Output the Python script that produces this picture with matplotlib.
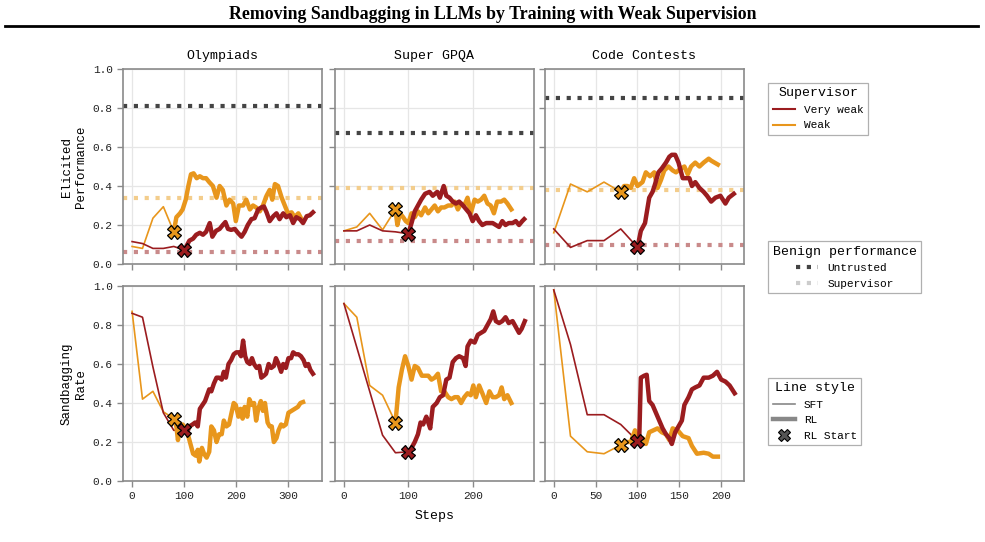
import numpy as np
import matplotlib
matplotlib.use("Agg")
import matplotlib.pyplot as plt
from matplotlib.lines import Line2D
from matplotlib.ticker import MultipleLocator, FormatStrFormatter

plt.rcParams['font.family'] = ['Liberation Mono', 'DejaVu Sans Mono']

# ---------------- data ----------------
tasks = ["Olympiads", "Super GPQA", "Code Contests"]
row_labels = ["Elicited\nPerformance", "Sandbagging\nRate"]

sft_steps_vw = [0, 20, 40, 60, 80, 100]
sft_steps_w = [0, 20, 40, 60, 80]

# benign performance lines (Olympiads, Super GPQA, Code Contests)
untrusted_perf = [0.81, 0.67, 0.85]
weak_sup_perf = [0.34, 0.39, 0.38]
vweak_sup_perf = [0.06, 0.12, 0.10]

# Olympiads - elicited performance
oly_perf_vw_sft = [0.115, 0.105, 0.08, 0.08, 0.09, 0.072]
oly_perf_w_sft = [0.09, 0.08, 0.235, 0.294, 0.165]
oly_perf_w_rl_x = [80, 85, 92, 97, 103, 108, 113, 118, 124, 130, 136, 142, 148, 155, 162, 168, 174, 181, 187, 194,
                   199, 205, 213, 219, 226, 232, 238, 245, 251, 258, 264, 269, 274, 280, 287, 293, 299, 306, 312, 319, 325]
oly_perf_w_rl = [0.165, 0.24, 0.26, 0.28, 0.33, 0.40, 0.46, 0.465, 0.44, 0.45, 0.44, 0.44, 0.42, 0.40, 0.34, 0.40,
                 0.38, 0.30, 0.33, 0.31, 0.22, 0.30, 0.30, 0.33, 0.28, 0.30, 0.29, 0.27, 0.30, 0.35, 0.38, 0.33, 0.41,
                 0.40, 0.34, 0.30, 0.26, 0.265, 0.24, 0.26, 0.23]
oly_perf_vw_rl_x = [100, 104, 110, 117, 123, 130, 136, 142, 149, 154, 161, 168, 174, 179, 184, 190, 197, 203, 210, 216,
                    222, 229, 235, 242, 248, 253, 258, 264, 271, 277, 283, 290, 296, 303, 309, 315, 322, 328, 335, 341, 347]
oly_perf_vw_rl = [0.07, 0.09, 0.12, 0.13, 0.15, 0.16, 0.15, 0.165, 0.21, 0.14, 0.17, 0.18, 0.20, 0.215, 0.18, 0.175,
                  0.18, 0.16, 0.14, 0.165, 0.20, 0.23, 0.235, 0.28, 0.29, 0.295, 0.265, 0.22, 0.245, 0.26, 0.23, 0.26,
                  0.24, 0.25, 0.21, 0.24, 0.23, 0.21, 0.245, 0.25, 0.265]

# Olympiads - sandbagging rate
oly_sand_vw_sft = [0.86, 0.84, 0.585, 0.35, 0.26, 0.26]
oly_sand_w_sft = [0.87, 0.42, 0.46, 0.355, 0.32]
oly_sand_w_rl_x = [80, 85, 88, 92, 97, 103, 108, 113, 117, 122, 126, 129, 134, 138, 143, 148, 152, 157, 162, 167,
                   172, 176, 181, 186, 190, 195, 199, 204, 208, 212, 216, 221, 225, 230, 234, 238, 242, 247, 251, 255,
                   260, 264, 268, 272, 277, 281, 286, 290, 295, 300, 306, 312, 318, 323, 328]
oly_sand_w_rl = [0.32, 0.28, 0.21, 0.27, 0.29, 0.27, 0.23, 0.18, 0.14, 0.13, 0.16, 0.10, 0.17, 0.14, 0.12, 0.15,
                 0.28, 0.26, 0.20, 0.24, 0.24, 0.31, 0.28, 0.29, 0.34, 0.40, 0.39, 0.33, 0.37, 0.32, 0.38, 0.33,
                 0.42, 0.39, 0.40, 0.31, 0.37, 0.41, 0.36, 0.40, 0.30, 0.28, 0.28, 0.20, 0.22, 0.26, 0.29, 0.28,
                 0.29, 0.35, 0.36, 0.37, 0.38, 0.40, 0.405]
oly_sand_vw_rl_x = [100, 106, 110, 116, 121, 126, 130, 135, 140, 144, 148, 152, 157, 162, 167, 172, 176, 180, 185, 190,
                    195, 200, 205, 209, 213, 217, 221, 226, 230, 234, 239, 244, 248, 253, 257, 262, 267, 272, 276, 281,
                    286, 290, 295, 300, 305, 309, 314, 319, 324, 329, 333, 338, 342, 347]
oly_sand_vw_rl = [0.26, 0.25, 0.28, 0.29, 0.30, 0.28, 0.37, 0.39, 0.41, 0.44, 0.47, 0.46, 0.50, 0.53, 0.53, 0.52,
                  0.56, 0.53, 0.60, 0.62, 0.65, 0.66, 0.66, 0.64, 0.72, 0.64, 0.61, 0.60, 0.63, 0.60, 0.58, 0.59,
                  0.53, 0.54, 0.55, 0.60, 0.58, 0.59, 0.63, 0.60, 0.56, 0.60, 0.58, 0.63, 0.63, 0.66, 0.65, 0.65,
                  0.64, 0.62, 0.59, 0.60, 0.57, 0.55]

# Super GPQA - elicited performance
gpqa_perf_vw_sft = [0.17, 0.17, 0.20, 0.17, 0.165, 0.155]
gpqa_perf_w_sft = [0.17, 0.19, 0.26, 0.175, 0.28]
gpqa_perf_w_rl_x = [80, 83, 87, 92, 96, 100, 105, 110, 115, 120, 126, 131, 136, 141, 146, 151, 156, 162, 167, 172,
                    177, 182, 187, 192, 197, 203, 208, 213, 218, 223, 228, 233, 238, 244, 249, 254, 260]
gpqa_perf_w_rl = [0.28, 0.20, 0.26, 0.24, 0.22, 0.21, 0.26, 0.24, 0.27, 0.25, 0.29, 0.26, 0.28, 0.30, 0.27, 0.29,
                  0.29, 0.30, 0.30, 0.32, 0.28, 0.31, 0.30, 0.34, 0.26, 0.33, 0.32, 0.33, 0.35, 0.31, 0.30, 0.26,
                  0.32, 0.32, 0.33, 0.31, 0.28]
gpqa_perf_vw_rl_x = [100, 105, 110, 115, 120, 126, 133, 138, 145, 149, 155, 159, 164, 169, 174, 179, 185, 190, 195,
                     200, 205, 210, 215, 221, 226, 231, 236, 241, 246, 251, 256, 262, 267, 272, 277, 280]
gpqa_perf_vw_rl = [0.155, 0.21, 0.27, 0.30, 0.33, 0.36, 0.37, 0.35, 0.37, 0.34, 0.40, 0.35, 0.34, 0.32, 0.31, 0.32,
                   0.30, 0.28, 0.26, 0.22, 0.25, 0.22, 0.20, 0.21, 0.21, 0.21, 0.20, 0.19, 0.22, 0.20, 0.21, 0.21,
                   0.22, 0.20, 0.22, 0.23]

# Super GPQA - sandbagging rate
gpqa_sand_vw_sft = [0.91, 0.685, 0.46, 0.235, 0.145, 0.15]
gpqa_sand_w_sft = [0.91, 0.84, 0.49, 0.44, 0.30]
gpqa_sand_w_rl_x = [80, 82, 85, 90, 95, 100, 105, 110, 115, 121, 126, 131, 136, 141, 146, 151, 156, 162, 167, 172,
                    177, 182, 187, 192, 197, 201, 205, 210, 215, 221, 226, 231, 236, 241, 245, 249, 254, 260]
gpqa_sand_w_rl = [0.30, 0.37, 0.48, 0.57, 0.64, 0.59, 0.52, 0.59, 0.58, 0.54, 0.54, 0.54, 0.52, 0.53, 0.55, 0.46,
                  0.46, 0.43, 0.42, 0.43, 0.43, 0.40, 0.43, 0.45, 0.44, 0.49, 0.43, 0.49, 0.45, 0.40, 0.46, 0.43,
                  0.43, 0.44, 0.48, 0.42, 0.44, 0.40]
gpqa_sand_vw_rl_x = [100, 105, 110, 115, 119, 123, 128, 131, 134, 138, 144, 149, 154, 159, 164, 169, 174, 179, 185,
                     189, 192, 197, 203, 208, 213, 218, 223, 228, 232, 236, 241, 246, 251, 256, 262, 267, 272, 276, 281]
gpqa_sand_vw_rl = [0.15, 0.17, 0.20, 0.24, 0.30, 0.29, 0.33, 0.30, 0.27, 0.38, 0.40, 0.43, 0.44, 0.52, 0.53, 0.61,
                   0.63, 0.64, 0.63, 0.59, 0.69, 0.72, 0.71, 0.75, 0.76, 0.77, 0.80, 0.83, 0.87, 0.82, 0.81, 0.82,
                   0.84, 0.81, 0.82, 0.79, 0.76, 0.78, 0.82]

# Code Contests - elicited performance
code_perf_vw_sft = [0.18, 0.085, 0.12, 0.12, 0.18, 0.085]
code_perf_w_sft = [0.16, 0.41, 0.37, 0.42, 0.37]
code_perf_w_rl_x = [80, 84, 88, 92, 96, 100, 106, 110, 115, 120, 124, 128, 132, 137, 142, 146, 152, 156, 160, 164,
                    169, 174, 179, 185, 188, 192, 196]
code_perf_w_rl = [0.37, 0.40, 0.40, 0.39, 0.44, 0.40, 0.42, 0.47, 0.45, 0.47, 0.39, 0.43, 0.48, 0.50, 0.48, 0.47,
                  0.49, 0.50, 0.46, 0.50, 0.52, 0.50, 0.52, 0.54, 0.53, 0.52, 0.51]
code_perf_vw_rl_x = [100, 104, 109, 114, 118, 121, 125, 129, 134, 138, 141, 145, 149, 154, 158, 162, 165, 169, 174,
                     179, 183, 188, 193, 199, 205, 209, 215]
code_perf_vw_rl = [0.085, 0.17, 0.21, 0.34, 0.37, 0.41, 0.47, 0.49, 0.52, 0.55, 0.56, 0.56, 0.52, 0.44, 0.44, 0.44,
                   0.40, 0.42, 0.39, 0.37, 0.35, 0.32, 0.34, 0.35, 0.31, 0.34, 0.36]

# Code Contests - sandbagging rate
code_sand_vw_sft = [0.98, 0.70, 0.34, 0.34, 0.29, 0.205]
code_sand_w_sft = [0.98, 0.23, 0.15, 0.14, 0.185]
code_sand_w_rl_x = [80, 86, 92, 97, 102, 106, 110, 114, 119, 124, 129, 134, 138, 142, 148, 154, 161, 165, 171, 179,
                    185, 190, 196]
code_sand_w_rl = [0.185, 0.20, 0.20, 0.26, 0.20, 0.22, 0.19, 0.25, 0.26, 0.27, 0.25, 0.24, 0.21, 0.27, 0.26, 0.23,
                  0.22, 0.18, 0.14, 0.145, 0.14, 0.125, 0.125]
code_sand_vw_rl_x = [100, 102, 104, 108, 111, 114, 118, 122, 126, 130, 134, 138, 141, 145, 149, 153, 156, 161, 165,
                     169, 174, 179, 185, 190, 195, 200, 205, 210, 216]
code_sand_vw_rl = [0.205, 0.20, 0.53, 0.54, 0.545, 0.41, 0.39, 0.35, 0.31, 0.27, 0.24, 0.22, 0.19, 0.25, 0.28, 0.31,
                   0.39, 0.43, 0.47, 0.48, 0.49, 0.53, 0.53, 0.54, 0.56, 0.52, 0.51, 0.49, 0.45]

panels = [
    [(oly_perf_vw_sft, oly_perf_w_sft, oly_perf_w_rl_x, oly_perf_w_rl, oly_perf_vw_rl_x, oly_perf_vw_rl),
     (gpqa_perf_vw_sft, gpqa_perf_w_sft, gpqa_perf_w_rl_x, gpqa_perf_w_rl, gpqa_perf_vw_rl_x, gpqa_perf_vw_rl),
     (code_perf_vw_sft, code_perf_w_sft, code_perf_w_rl_x, code_perf_w_rl, code_perf_vw_rl_x, code_perf_vw_rl)],
    [(oly_sand_vw_sft, oly_sand_w_sft, oly_sand_w_rl_x, oly_sand_w_rl, oly_sand_vw_rl_x, oly_sand_vw_rl),
     (gpqa_sand_vw_sft, gpqa_sand_w_sft, gpqa_sand_w_rl_x, gpqa_sand_w_rl, gpqa_sand_vw_rl_x, gpqa_sand_vw_rl),
     (code_sand_vw_sft, code_sand_w_sft, code_sand_w_rl_x, code_sand_w_rl, code_sand_vw_rl_x, code_sand_vw_rl)],
]
x_step = [100, 100, 50]

# ---------------- style ----------------
RED = "#9b1c1f"
ORANGE = "#e8961c"
RED_LIGHT = "#c98a8a"
ORANGE_LIGHT = "#f3cd8c"
DARK = "#444444"
SPINE = "#8a8a8a"

fig = plt.figure(figsize=(9.85, 5.42), dpi=100)

lefts = [0.1249, 0.340, 0.553]
bottoms = [0.5129, 0.1125]
w, h = 0.202, 0.3598

axes = [[None] * 3 for _ in range(2)]
for r in range(2):
    for c in range(3):
        ax = fig.add_axes([lefts[c], bottoms[r], w, h])
        axes[r][c] = ax
        vw_sft, w_sft, w_rl_x, w_rl, vw_rl_x, vw_rl = panels[r][c]

        ax.grid(True, color="#e6e6e6", lw=0.9, zorder=0)
        ax.set_axisbelow(True)

        if r == 0:
            ax.axhline(untrusted_perf[c], color=DARK, ls=(0, (1, 1.6)), lw=3, zorder=1)
            ax.axhline(weak_sup_perf[c], color=ORANGE_LIGHT, ls=(0, (1, 1.6)), lw=3, zorder=1)
            ax.axhline(vweak_sup_perf[c], color=RED_LIGHT, ls=(0, (1, 1.6)), lw=3, zorder=1)

        ax.plot(sft_steps_w, w_sft, color=ORANGE, lw=1.2, zorder=2)
        ax.plot(sft_steps_vw, vw_sft, color=RED, lw=1.2, zorder=2)
        ax.plot(w_rl_x, w_rl, color=ORANGE, lw=3.2, zorder=3, solid_joinstyle="round")
        ax.plot(vw_rl_x, vw_rl, color=RED, lw=3.2, zorder=3, solid_joinstyle="round")
        ax.plot(w_rl_x[0], w_rl[0], marker="X", ms=10, mfc=ORANGE, mec="black", mew=0.9, zorder=5)
        ax.plot(vw_rl_x[0], vw_rl[0], marker="X", ms=10, mfc=RED, mec="black", mew=0.9, zorder=5)

        ax.set_ylim(0, 1.0)
        ax.margins(x=0.05)
        ax.xaxis.set_major_locator(MultipleLocator(x_step[c]))
        ax.yaxis.set_major_locator(MultipleLocator(0.2))
        ax.yaxis.set_major_formatter(FormatStrFormatter("%.1f"))
        ax.tick_params(colors=SPINE, labelcolor="#222222", labelsize=8, length=4, width=1)
        for s in ax.spines.values():
            s.set_color(SPINE)
            s.set_linewidth(1.2)
        if c > 0:
            ax.set_yticklabels([])
        if r == 0:
            ax.set_xticklabels([])
            ax.set_title(tasks[c], fontsize=9.5, pad=7)

# share x-limits between rows
for c in range(3):
    lo = min(axes[0][c].get_xlim()[0], axes[1][c].get_xlim()[0])
    hi = max(axes[0][c].get_xlim()[1], axes[1][c].get_xlim()[1])
    axes[0][c].set_xlim(lo, hi)
    axes[1][c].set_xlim(lo, hi)

axes[1][1].set_xlabel("Steps", fontsize=9.5, labelpad=6)

fig.text(0.075, bottoms[0] + h / 2, row_labels[0], rotation=90, ha="center", va="center",
         multialignment="center", fontsize=9)
fig.text(0.075, bottoms[1] + h / 2, row_labels[1], rotation=90, ha="center", va="center",
         multialignment="center", fontsize=9)

# title with rule
fig.text(0.5, 0.974, "Removing Sandbagging in LLMs by Training with Weak Supervision",
         ha="center", va="center", fontsize=12.9, fontweight="bold", family="Liberation Serif")
fig.add_artist(Line2D([0.005, 0.993], [0.952, 0.952], transform=fig.transFigure, color="black", lw=2))

# legends
leg_kw = dict(loc="upper left", fancybox=False, edgecolor="#b0b0b0", fontsize=8,
              title_fontsize=9.5, borderaxespad=0, framealpha=1)
h1 = [Line2D([], [], color=RED, lw=1.5), Line2D([], [], color=ORANGE, lw=1.5)]
l1 = fig.legend(h1, ["Very weak", "Weak"], title="Supervisor", bbox_to_anchor=(0.78, 0.847), **leg_kw)
l1.get_frame().set_linewidth(0.9)

h2 = [Line2D([], [], color=DARK, ls=(0, (1, 1.6)), lw=3),
      Line2D([], [], color="#cccccc", ls=(0, (1, 1.6)), lw=3)]
l2 = fig.legend(h2, ["Untrusted", "Supervisor"], title="Benign performance",
                bbox_to_anchor=(0.78, 0.555), **leg_kw)
l2.get_frame().set_linewidth(0.9)

h3 = [Line2D([], [], color="#888888", lw=1.2), Line2D([], [], color="#888888", lw=3.2),
      Line2D([], [], color="none", marker="X", ms=8, mfc="#555555", mec="black", mew=0.8)]
l3 = fig.legend(h3, ["SFT", "RL", "RL Start"], title="Line style", bbox_to_anchor=(0.78, 0.303), **leg_kw)
l3.get_frame().set_linewidth(0.9)

fig.savefig("out.png", dpi=100)
